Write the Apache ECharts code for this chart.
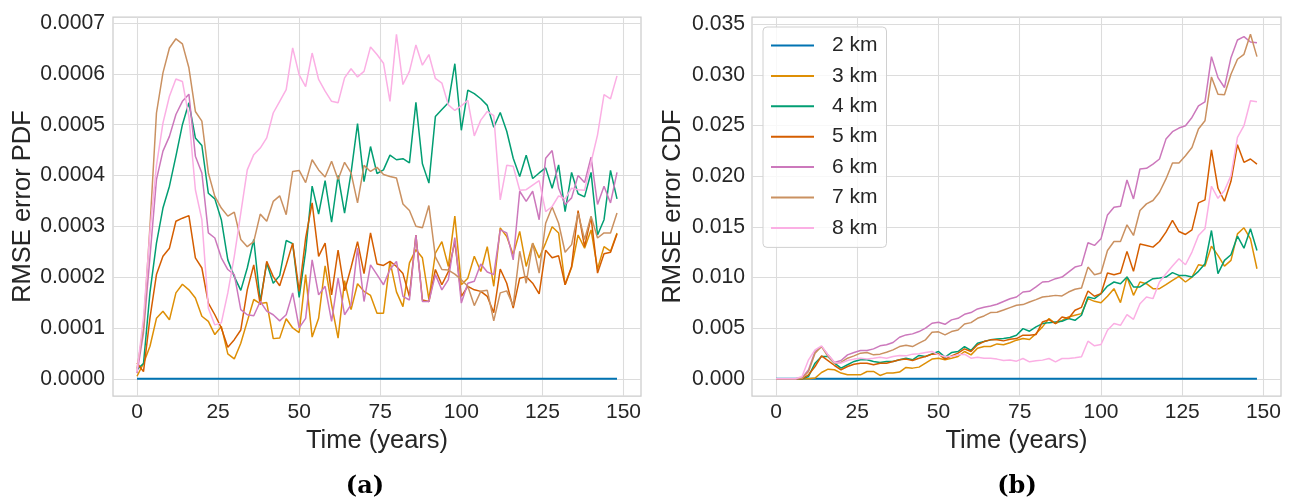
<!DOCTYPE html>
<html>
<head>
<meta charset="utf-8">
<script src="https://cdn.jsdelivr.net/npm/echarts@6/dist/echarts.min.js"></script>
<style>
html,body{margin:0;padding:0;background:#ffffff;}
#c{width:1294px;height:502px;}
</style>
</head>
<body>
<div id="c"></div>
<script>
// ---- data ----
const years = [0,2,4,6,8,10,12,14,16,18,20,22,24,26,28,30,32,34,36,38,40,42,44,46,48,50,52,54,56,58,60,62,64,66,68,70,72,74,76,78,80,82,84,86,88,90,92,94,96,98,100,102,104,106,108,110,112,114,116,118,120,122,124,126,128,130,132,134,136,138,140,142,144,146,148];
const seriesNames = ['2 km','3 km','4 km','5 km','6 km','7 km','8 km'];
const xTicks = [0,25,50,75,100,125,150];
const pdfTicks = [0,0.0001,0.0002,0.0003,0.0004,0.0005,0.0006,0.0007];
const cdfTicks = [0,0.005,0.010,0.015,0.020,0.025,0.030,0.035];

// RMSE error PDF, in units of 1e-4
const pdfUnit = 1e-4;
const pdf2 = [0,0,0,0,0,0,0,0,0,0,0,0,0,0,0,0,0,0,0,0,0,0,0,0,0,0,0,0,0,0,0,0,0,0,0,0,0,0,0,0,0,0,0,0,0,0,0,0,0,0,0,0,0,0,0,0,0,0,0,0,0,0,0,0,0,0,0,0,0,0,0,0,0,0,0];
const pdf3 = [0.05,0.3,0.64,1.19,1.33,1.16,1.69,1.86,1.75,1.59,1.23,1.13,0.87,1.03,0.49,0.39,0.70,1.13,1.56,1.48,1.50,0.79,0.80,1.18,1.00,0.91,2.05,0.82,1.19,2.22,1.46,0.80,1.93,1.36,1.87,1.72,1.64,1.29,1.29,2.31,1.71,1.42,2.28,2.54,2.38,1.56,2.47,2.70,2.21,3.20,1.85,1.98,2.41,2.11,2.60,1.82,2.97,2.80,2.44,2.90,2.21,2.67,2.38,2.67,2.99,2.87,1.85,2.19,2.83,2.57,2.93,2.16,2.60,2.51,2.87];
const pdf4 = [0.18,0.3,1.7,2.67,3.36,3.79,4.38,5.00,5.43,4.74,4.59,3.65,3.54,3.13,2.34,2.01,1.74,2.18,2.74,1.52,2.28,1.88,2.03,2.72,2.66,1.60,2.51,3.79,3.24,3.90,3.08,4.00,3.26,4.05,5.02,3.88,4.57,4.04,4.11,4.40,4.31,4.33,4.25,5.44,4.23,3.85,5.16,5.30,5.43,6.20,4.89,5.68,5.61,5.51,5.38,4.95,5.24,4.87,4.34,3.98,4.40,3.94,4.05,4.15,3.75,4.21,3.29,4.06,3.64,3.58,4.06,2.83,3.13,4.10,3.54];
const pdf5 = [0.31,0.14,1.2,2.05,2.41,2.57,3.10,3.16,3.21,2.38,2.18,1.49,1.26,1.00,0.62,0.77,0.96,1.75,2.24,1.46,2.31,2.01,1.83,2.24,2.67,1.72,2.77,3.46,2.41,2.67,1.65,2.53,1.73,2.19,2.70,2.07,2.87,2.26,2.23,2.31,2.21,2.07,1.62,2.83,1.55,1.52,2.15,1.85,2.11,2.70,1.62,1.82,1.75,1.72,1.62,1.30,2.16,1.88,1.39,1.98,2.01,1.88,1.67,2.53,2.38,2.42,1.85,2.21,3.31,2.60,3.18,2.08,2.46,2.49,2.85];
const pdf6 = [0.11,0.9,2.4,3.92,4.48,4.77,5.20,5.46,5.60,4.38,4.05,2.87,2.77,2.38,2.15,2.05,1.36,1.26,1.24,1.52,1.33,1.26,1.14,1.26,1.69,1.00,1.19,2.34,1.65,1.82,1.13,1.98,1.26,1.46,2.57,1.52,2.24,2.05,1.85,2.15,2.31,1.62,1.55,2.83,1.52,1.52,2.05,1.75,1.95,2.78,1.49,1.88,1.92,2.26,2.10,2.05,2.93,2.87,2.34,3.69,3.49,3.69,3.13,4.34,4.49,3.75,3.43,3.56,4.00,3.86,4.36,3.43,3.79,3.46,4.06];
const pdf7 = [0.2,1.0,3.0,5.23,6.02,6.51,6.69,6.59,6.12,5.26,5.07,4.05,3.59,3.36,3.20,3.28,2.74,2.60,2.70,3.24,3.10,3.49,3.60,3.23,4.08,4.10,3.86,4.31,4.11,3.97,4.28,3.92,4.26,4.05,3.46,4.20,4.08,4.16,4.02,3.98,3.95,3.44,3.31,3.00,2.97,3.41,2.40,2.15,2.14,2.06,1.95,1.82,1.44,1.72,1.74,1.14,1.69,1.73,1.44,2.51,1.88,2.67,2.08,3.06,3.38,3.06,2.49,2.64,3.26,2.74,3.20,2.77,2.87,2.87,3.26];
const pdf8 = [0.14,1.2,2.9,4.2,5.03,5.56,5.90,5.85,5.16,3.72,3.13,1.39,1.06,1.10,1.69,2.41,3.26,4.11,4.41,4.54,4.74,5.23,5.46,5.69,6.51,5.98,5.75,6.41,5.89,5.66,5.46,5.43,5.92,6.10,5.94,6.05,6.53,6.38,6.21,5.46,6.78,5.79,6.05,6.57,6.17,6.38,5.91,5.82,5.39,5.28,5.37,5.48,4.78,5.09,5.26,5.18,3.52,4.20,4.18,3.71,3.72,3.81,3.90,3.29,3.39,3.60,3.54,3.75,3.72,3.71,4.26,4.80,5.59,5.51,5.96];

// RMSE error CDF, in units of 1e-3
const cdfUnit = 1e-3;
const cdf2 = [0,0,0,0,0,0,0,0,0,0,0,0,0,0,0,0,0,0,0,0,0,0,0,0,0,0,0,0,0,0,0,0,0,0,0,0,0,0,0,0,0,0,0,0,0,0,0,0,0,0,0,0,0,0,0,0,0,0,0,0,0,0,0,0,0,0,0,0,0,0,0,0,0,0,0];
const cdf3 = [0,0,0,0,0,0,0.07,0.62,0.95,0.89,0.56,0.39,0.39,0.39,0.72,0.72,0.33,0.56,0.56,0.66,1.12,1.05,1.15,1.54,1.94,2.03,1.87,2.03,2.20,2.69,2.36,3.02,3.18,3.18,3.44,3.35,3.55,3.81,3.97,3.87,4.46,5.12,5.94,5.45,5.77,6.10,6.27,6.43,7.91,7.64,7.51,8.14,8.89,7.51,10.04,8.23,9.55,9.38,8.89,8.89,9.28,9.71,10.10,9.55,10.04,11.25,11.12,13.09,12.17,11.12,11.68,14.30,14.90,13.81,10.86];
const cdf4 = [0,0,0,0,0,0.23,1.54,2.20,2.20,1.54,1.05,1.38,1.71,1.87,1.87,1.71,1.61,1.71,1.71,1.87,2.03,1.87,2.30,2.20,2.46,2.69,2.13,2.59,2.69,3.18,2.79,3.51,3.67,3.84,3.93,3.97,4.07,4.30,4.95,4.69,5.12,5.45,5.54,5.61,5.68,5.94,5.77,6.27,8.07,7.91,8.40,9.15,9.55,9.38,10.04,9.06,9.06,9.48,9.88,9.94,10.04,10.47,10.20,10.20,10.04,10.60,11.35,14.63,10.37,11.68,12.24,14.07,12.89,14.80,12.66];
const cdf5 = [0,0,0,0,0,0.39,1.21,2.26,1.80,1.31,0.89,1.21,1.44,1.54,1.54,1.38,1.54,1.54,1.71,1.87,1.94,1.80,2.03,2.20,2.43,2.46,1.94,2.26,2.53,2.95,2.69,3.35,3.67,3.84,3.84,3.74,3.90,3.97,4.30,4.30,4.36,5.61,5.84,5.45,6.10,5.94,6.76,7.05,8.66,8.14,8.40,10.43,10.27,10.43,12.57,10.60,13.29,13.16,12.99,13.55,14.47,15.62,14.53,14.24,14.70,17.36,17.65,22.60,18.80,17.52,19.49,23.10,21.36,21.69,21.19];
const cdf6 = [0,0,0,0,0.07,0.89,2.69,3.18,2.36,1.61,1.80,2.36,2.59,2.79,2.79,2.95,3.25,3.35,3.58,4.10,4.33,4.43,4.66,4.99,5.48,5.58,5.38,5.81,5.97,6.36,6.53,6.89,7.05,7.19,7.35,7.63,7.89,8.07,8.56,8.63,9.06,9.55,9.61,9.88,10.04,10.53,11.02,11.19,13.42,13.16,13.81,16.17,16.93,17.03,19.62,17.75,20.70,20.77,21.19,21.69,23.65,24.38,24.74,24.97,25.79,26.94,27.33,31.79,29.72,28.74,31.69,33.43,33.76,33.23,33.17];
const cdf7 = [0,0,0,0,0.05,0.72,2.53,3.18,2.20,1.54,1.61,2.03,2.26,2.53,2.59,2.36,2.43,2.62,2.85,3.18,3.31,3.18,3.51,3.84,4.59,4.63,4.33,4.66,4.82,5.41,5.54,5.97,6.20,6.53,6.56,6.78,7.02,7.25,7.32,7.58,7.81,8.07,8.14,8.23,8.17,8.56,8.83,8.96,11.02,10.27,10.43,12.66,13.55,13.55,15.19,14.14,16.60,17.26,17.59,18.41,19.72,21.29,21.29,22.01,22.83,24.64,25.46,29.79,28.08,28.02,30.05,31.53,32.02,33.99,31.79];
const cdf8 = [0,0,0,0,0.23,1.87,2.85,3.25,2.36,1.61,1.54,1.80,1.94,2.03,1.94,2.03,2.13,2.03,2.20,2.30,2.26,2.43,2.46,2.59,2.69,2.36,2.20,2.20,2.36,2.43,2.03,2.13,2.03,2.03,1.94,1.80,1.85,1.74,2.00,1.67,1.77,1.84,2.00,1.67,2.00,2.00,2.07,2.17,3.71,3.25,3.38,4.79,5.45,5.28,6.33,5.87,7.41,8.07,7.91,9.55,10.37,11.12,11.84,11.25,12.50,14.14,14.80,19.00,17.81,18.57,20.05,23.82,24.97,27.43,27.33];

const colors = ['#0173b2','#de8f05','#029e73','#d55e00','#cc78bc','#ca9161','#fbafe4'];
const pdfData = [pdf2,pdf3,pdf4,pdf5,pdf6,pdf7,pdf8];
const cdfData = [cdf2,cdf3,cdf4,cdf5,cdf6,cdf7,cdf8];

// ---- chart ----
const FONT = 'Liberation Sans, Arial, sans-serif';
const TXT = '#262626';
const chart = echarts.init(document.getElementById('c'), null, {renderer: 'canvas'});

function pairs(arr, unit) {
  return years.map((y, i) => [y, arr[i] * unit]);
}

const series = [];
pdfData.forEach((arr, k) => {
  series.push({
    name: seriesNames[k], type: 'line', xAxisIndex: 0, yAxisIndex: 0,
    data: pairs(arr, pdfUnit), symbol: 'none', showSymbol: false,
    lineStyle: {width: k === 0 ? 2 : 1.5, color: colors[k]},
    itemStyle: {color: colors[k]}, animation: false, silent: true
  });
});
cdfData.forEach((arr, k) => {
  series.push({
    name: seriesNames[k], type: 'line', xAxisIndex: 1, yAxisIndex: 1,
    data: pairs(arr, cdfUnit), symbol: 'none', showSymbol: false,
    lineStyle: {width: k === 0 ? 2 : 1.5, color: colors[k]},
    itemStyle: {color: colors[k]}, animation: false, silent: true
  });
});

function xAxis(idx) {
  return {
    type: 'value', gridIndex: idx, min: -7.4, max: 155.4,
    name: 'Time (years)', nameLocation: 'middle', nameGap: 25,
    nameTextStyle: {fontFamily: FONT, fontSize: 25.5, color: TXT},
    axisLine: {show: false},
    axisTick: {show: false, customValues: xTicks},
    axisLabel: {customValues: xTicks, fontFamily: FONT, fontSize: 21, color: TXT, margin: 6,
      formatter: v => String(Math.round(v))},
    splitLine: {show: true, lineStyle: {color: '#dcdcdc', width: 1.1}}
  };
}

const option = {
  backgroundColor: '#ffffff',
  animation: false,
  grid: [
    {left: 113, top: 17, width: 528, height: 379, show: true, borderColor: '#cccccc', borderWidth: 1.25, backgroundColor: 'transparent'},
    {left: 752, top: 17, width: 529, height: 379, show: true, borderColor: '#cccccc', borderWidth: 1.25, backgroundColor: 'transparent'}
  ],
  xAxis: [xAxis(0), xAxis(1)],
  yAxis: [
    {
      type: 'value', gridIndex: 0, min: -0.0000339, max: 0.0007119,
      name: 'RMSE error PDF', nameLocation: 'middle', nameGap: 77,
      nameTextStyle: {fontFamily: FONT, fontSize: 25.5, color: TXT},
      axisLine: {show: false},
      axisTick: {show: false, customValues: pdfTicks},
      axisLabel: {customValues: pdfTicks, fontFamily: FONT, fontSize: 21.2, color: TXT, margin: 8,
        formatter: v => v.toFixed(4)},
      splitLine: {show: true, lineStyle: {color: '#dcdcdc', width: 1.1}}
    },
    {
      type: 'value', gridIndex: 1, min: -0.0017, max: 0.0357,
      name: 'RMSE error CDF', nameLocation: 'middle', nameGap: 66,
      nameTextStyle: {fontFamily: FONT, fontSize: 25.5, color: TXT},
      axisLine: {show: false},
      axisTick: {show: false, customValues: cdfTicks},
      axisLabel: {customValues: cdfTicks, fontFamily: FONT, fontSize: 21.2, color: TXT, margin: 7,
        formatter: v => v.toFixed(3)},
      splitLine: {show: true, lineStyle: {color: '#dcdcdc', width: 1.1}}
    }
  ],
  legend: {
    data: seriesNames.map(n => ({name: n, icon: 'rect'})),
    orient: 'vertical', left: 763, top: 27,
    itemWidth: 43, itemHeight: 2, itemGap: 9.4,
    padding: [8, 9, 9, 8],
    backgroundColor: 'rgba(255,255,255,0.8)', borderColor: '#d0d0d0', borderWidth: 1, borderRadius: 4,
    textStyle: {fontFamily: FONT, fontSize: 21, color: TXT, lineHeight: 21, padding: [0, 0, 0, 13]},
    selectedMode: false
  },
  graphic: [
    {type: 'text', style: {text: '(a)', x: 365, y: 487, textAlign: 'center', textVerticalAlign: 'middle', font: 'bold 24px "DejaVu Serif", serif', fill: '#000000'}},
    {type: 'text', style: {text: '(b)', x: 1017, y: 487, textAlign: 'center', textVerticalAlign: 'middle', font: 'bold 24px "DejaVu Serif", serif', fill: '#000000'}}
  ],
  series: series
};
chart.setOption(option);
</script>
</body>
</html>
